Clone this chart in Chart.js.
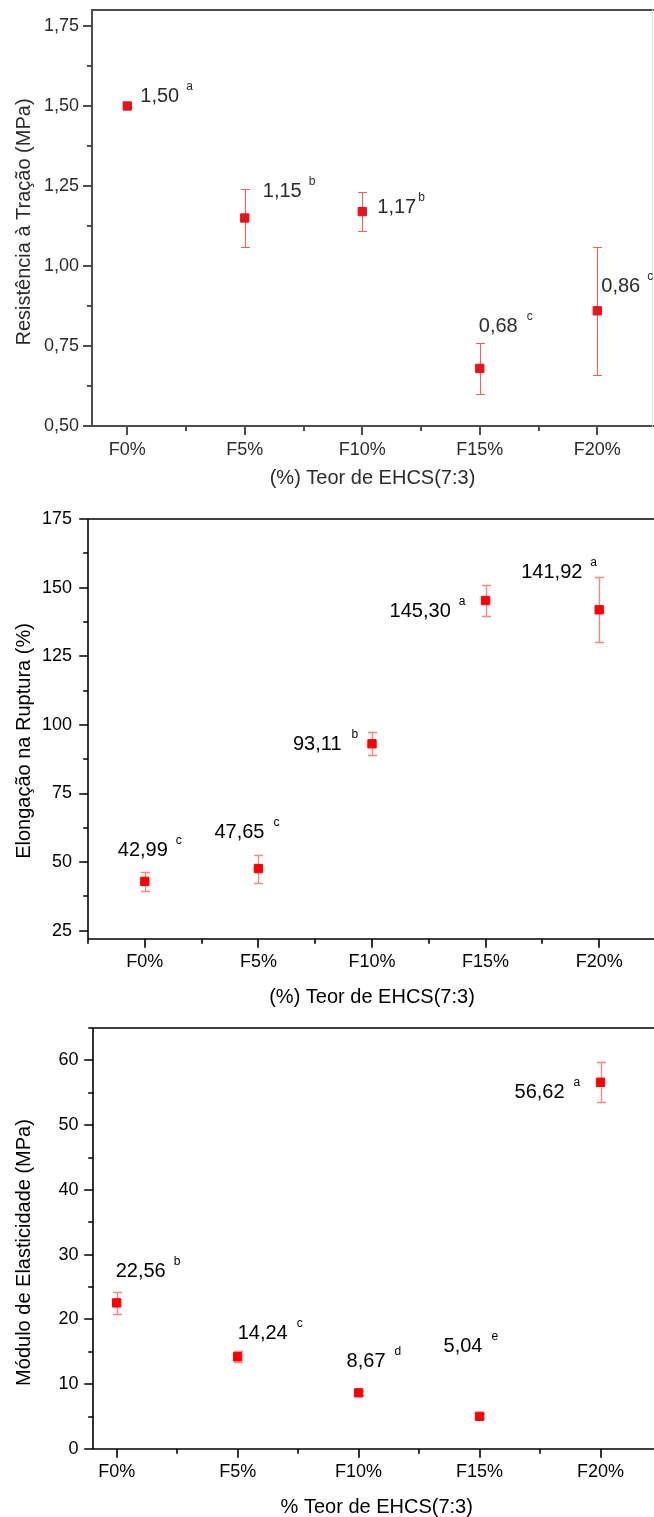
<!DOCTYPE html>
<html>
<head>
<meta charset="utf-8">
<title>EHCS(7:3)</title>
<script src="https://cdn.jsdelivr.net/npm/chart.js@4.4.1/dist/chart.umd.min.js"></script>
<style>
  html, body { margin: 0; padding: 0; background: #fff; overflow: hidden; }
  #page { position: relative; width: 654px; height: 1517px; overflow: hidden; }
  #page canvas { position: absolute; left: 0; }
  #tensile { filter: blur(0.45px); }
</style>
</head>
<body>
<div id="page">
  <canvas id="tensile" width="654" height="500" style="top:0"></canvas>
  <canvas id="elongation" width="656" height="519" style="top:500px"></canvas>
  <canvas id="modulus" width="661" height="510" style="top:1019px"></canvas>
</div>
<script>
const categories = ['F0%', 'F5%', 'F10%', 'F15%', 'F20%'];

const tensileValues = [1.50, 1.15, 1.17, 0.68, 0.86];
const tensileErrors = [0.01, 0.09, 0.06, 0.08, 0.2];
const tensileLetters = ['a', 'b', 'b', 'c', 'c'];
const tensileTicks = [0.50, 0.75, 1.00, 1.25, 1.50, 1.75];

const elongationValues = [42.99, 47.65, 93.11, 145.30, 141.92];
const elongationErrors = [3.5, 5.1, 4.2, 5.7, 11.9];
const elongationLetters = ['c', 'c', 'b', 'a', 'a'];
const elongationTicks = [25, 50, 75, 100, 125, 150, 175];

const modulusValues = [22.56, 14.24, 8.67, 5.04, 56.62];
const modulusErrors = [1.75, 0.85, 0.3, 0.3, 3.1];
const modulusLetters = ['b', 'c', 'd', 'e', 'a'];
const modulusTicks = [0, 10, 20, 30, 40, 50, 60];

const FONT = '"Liberation Sans", Arial, Helvetica, sans-serif';

const formatComma = (value, digits) => value.toFixed(digits).replace('.', ',');

// pin the right edge of the plot box (the layout keeps a few px for the last tick label)
const plotBoxPlugin = {
    id: 'plotBox',
    afterLayout(chart, args, opts) {
        const x = chart.scales.x;
        const right = chart.width - opts.right;
        chart.chartArea.right = right;
        chart.chartArea.width = right - chart.chartArea.left;
        x.right = right;
        x.width = right - x.left;
        x.configure();
    },
};

// vertical error bars with caps, drawn under the markers
const errorBarPlugin = {
    id: 'errorBars',
    beforeDatasetsDraw(chart, args, opts) {
        const { ctx, scales: { x, y } } = chart;
        ctx.save();
        ctx.strokeStyle = opts.color;
        ctx.lineWidth = opts.width;
        opts.errors.forEach((err, i) => {
            const v = opts.values[i];
            const px = Math.round(x.getPixelForValue(i)) + 0.5;
            const top = Math.round(y.getPixelForValue(v + err)) + 0.5;
            const bottom = Math.round(y.getPixelForValue(v - err)) + 0.5;
            ctx.beginPath();
            ctx.moveTo(px, top);
            ctx.lineTo(px, bottom);
            ctx.moveTo(px - opts.cap, top);
            ctx.lineTo(px + opts.cap, top);
            ctx.moveTo(px - opts.cap, bottom);
            ctx.lineTo(px + opts.cap, bottom);
            ctx.stroke();
        });
        ctx.restore();
    },
};

// axis lines, frame, major / minor tick marks and the rotated y title
const framePlugin = {
    id: 'frame',
    beforeDatasetsDraw(chart, args, opts) {
        const { ctx, chartArea: area, scales: { x, y } } = chart;
        const left = Math.round(area.left);
        const bottom = Math.round(area.bottom);
        ctx.save();
        ctx.strokeStyle = opts.color;
        ctx.lineWidth = opts.width;
        ctx.lineCap = 'square';

        ctx.beginPath();
        ctx.moveTo(left, Math.round(area.top));
        ctx.lineTo(area.right + 2, Math.round(area.top));
        ctx.moveTo(left, Math.round(area.top));
        ctx.lineTo(left, bottom);
        ctx.lineTo(area.right + 2, bottom);

        const ticks = opts.yTicks;
        const half = (ticks[1] - ticks[0]) / 2;
        for (let v = ticks[0] - half; v <= y.max + 1e-9; v += half) {
            if (v < y.min - 1e-9) continue;
            const py = Math.round(y.getPixelForValue(v));
            const major = ticks.some((t) => Math.abs(t - v) < 1e-9);
            ctx.moveTo(left - (major ? opts.majorLen : opts.minorLen), py);
            ctx.lineTo(left, py);
        }
        for (let v = Math.ceil(x.min * 2) / 2; v <= x.max + 1e-9; v += 0.5) {
            const px = Math.round(x.getPixelForValue(v));
            const major = Number.isInteger(v);
            ctx.moveTo(px, bottom);
            ctx.lineTo(px, bottom + (major ? opts.majorLen : opts.minorLen));
        }
        ctx.stroke();

        if (opts.rightColor) {
            ctx.strokeStyle = opts.rightColor;
            ctx.lineWidth = 1;
            ctx.beginPath();
            ctx.moveTo(Math.round(area.right) - 0.5, area.top);
            ctx.lineTo(Math.round(area.right) - 0.5, bottom);
            ctx.stroke();
        }

        ctx.translate(opts.titleX, (area.top + area.bottom) / 2 + opts.titleShift);
        ctx.rotate(-Math.PI / 2);
        ctx.fillStyle = opts.textColor;
        ctx.font = `20px ${FONT}`;
        ctx.textAlign = 'center';
        ctx.textBaseline = 'middle';
        ctx.fillText(opts.title, 0, 0);
        ctx.restore();
    },
};

// value labels with the letter of the significance group as superscript
const valueLabelPlugin = {
    id: 'valueLabels',
    afterDatasetsDraw(chart, args, opts) {
        const { ctx, scales: { x, y } } = chart;
        ctx.save();
        ctx.fillStyle = opts.color;
        ctx.textAlign = 'left';
        ctx.textBaseline = 'alphabetic';
        opts.values.forEach((v, i) => {
            const text = formatComma(v, 2);
            const tx = x.getPixelForValue(i) + opts.dx[i];
            const ty = y.getPixelForValue(v) + opts.dy[i] + 7;
            ctx.font = `20px ${FONT}`;
            ctx.fillText(text, tx, ty);
            const w = ctx.measureText(text).width;
            ctx.font = `12px ${FONT}`;
            ctx.fillText(opts.letters[i], tx + w + opts.gap[i], ty - 12);
        });
        ctx.restore();
    },
};

// no extra room around the plot box for labels sitting at its edges
const noEdgePadding = (scale) => {
    scale.paddingTop = 0;
    scale.paddingBottom = 0;
    scale.paddingLeft = 0;
    scale.paddingRight = 0;
};

const makeChart = (canvasId, cfg) => {
    const points = cfg.values.map((v, i) => ({ x: i, y: v }));
    const tickFont = { family: FONT, size: 18 };
    const titleFont = { family: FONT, size: 20 };

    return new Chart(document.getElementById(canvasId), {
        type: 'scatter',
        data: {
            datasets: [
                {
                    data: points,
                    pointStyle: 'rect',
                    pointRadius: 5.9,
                    pointHoverRadius: 5.9,
                    backgroundColor: cfg.marker,
                    borderColor: cfg.marker,
                    borderWidth: 1,
                },
            ],
        },
        options: {
            responsive: false,
            animation: false,
            events: [],
            layout: { padding: { top: cfg.top, right: cfg.right, bottom: 0, left: 0 } },
            plugins: {
                legend: { display: false },
                tooltip: { enabled: false },
                plotBox: { right: cfg.right },
                errorBars: { values: cfg.values, errors: cfg.errors, color: cfg.barColor, width: cfg.barWidth, cap: 4.5 },
                frame: {
                    color: cfg.axisColor,
                    width: cfg.axisWidth,
                    majorLen: 8,
                    minorLen: 4,
                    yTicks: cfg.yTicks,
                    rightColor: cfg.rightColor,
                    title: cfg.yTitle,
                    titleX: 24,
                    titleShift: cfg.yTitleShift,
                    textColor: cfg.textColor,
                },
                valueLabels: {
                    values: cfg.values,
                    letters: cfg.letters,
                    dx: cfg.dx,
                    dy: cfg.dy,
                    gap: cfg.gap,
                    color: cfg.textColor,
                },
            },
            scales: {
                x: {
                    type: 'linear',
                    min: cfg.xMin,
                    max: cfg.xMax,
                    afterFit: (scale) => {
                        scale.height = cfg.xAxisHeight;
                        noEdgePadding(scale);
                    },
                    afterBuildTicks: (scale) => { scale.ticks = categories.map((_, i) => ({ value: i })); },
                    grid: { display: false, drawTicks: false },
                    border: { display: false },
                    ticks: {
                        autoSkip: false,
                        maxRotation: 0,
                        padding: cfg.xTickPad,
                        color: cfg.textColor,
                        font: tickFont,
                        callback: (value) => categories[value],
                    },
                    title: {
                        display: true,
                        text: cfg.xTitle,
                        color: cfg.textColor,
                        font: titleFont,
                        padding: { top: 0, bottom: 10 },
                    },
                },
                y: {
                    type: 'linear',
                    min: cfg.yMin,
                    max: cfg.yMax,
                    afterFit: (scale) => {
                        scale.width = cfg.yAxisWidth;
                        noEdgePadding(scale);
                    },
                    afterBuildTicks: (scale) => { scale.ticks = cfg.yTicks.map((value) => ({ value })); },
                    grid: { display: false, drawTicks: false },
                    border: { display: false },
                    ticks: {
                        padding: cfg.yTickPad,
                        color: cfg.textColor,
                        font: tickFont,
                        callback: cfg.yFormat,
                    },
                },
            },
        },
        plugins: [plotBoxPlugin, framePlugin, errorBarPlugin, valueLabelPlugin],
    });
};

makeChart('tensile', {
    values: tensileValues,
    errors: tensileErrors,
    letters: tensileLetters,
    yTicks: tensileTicks,
    yMin: 0.5,
    yMax: 1.8,
    xMin: -0.3,
    xMax: 4.474,
    top: 10,
    right: 1,
    yAxisWidth: 92,
    xAxisHeight: 74,
    xTickPad: 13,
    yTickPad: 13,
    yFormat: (value) => formatComma(value, 2),
    xTitle: '(%) Teor de EHCS(7:3)',
    yTitle: 'Resistência à Tração (MPa)',
    yTitleShift: 4,
    dx: [13, 18, 15, -1, 4],
    dy: [-11, -28, -6, -43, -26],
    gap: [7, 7, 2, 9, 7],
    marker: '#e8141b',
    barColor: 'rgba(240, 85, 85, 0.95)',
    barWidth: 1.1,
    axisColor: '#4d4d4d',
    axisWidth: 2,
    rightColor: '#e2e2e2',
    textColor: '#2b2b2b',
});

makeChart('elongation', {
    values: elongationValues,
    errors: elongationErrors,
    letters: elongationLetters,
    yTicks: elongationTicks,
    yMin: 22,
    yMax: 175,
    xMin: -0.5,
    xMax: 4.5,
    top: 19,
    right: 0,
    yAxisWidth: 88,
    xAxisHeight: 80,
    xTickPad: 12,
    yTickPad: 16,
    yFormat: (value) => String(value),
    xTitle: '(%) Teor de EHCS(7:3)',
    yTitle: 'Elongação na Ruptura (%)',
    yTitleShift: 12,
    dx: [-27, -44, -79, -96, -78],
    dy: [-32, -38, -1, 9, -39],
    gap: [8, 9, 10, 8, 8],
    marker: '#ff0000',
    barColor: 'rgba(255, 90, 90, 0.75)',
    barWidth: 1.3,
    axisColor: '#000',
    axisWidth: 1.6,
    rightColor: null,
    textColor: '#000',
});

makeChart('modulus', {
    values: modulusValues,
    errors: modulusErrors,
    letters: modulusLetters,
    yTicks: modulusTicks,
    yMin: 0,
    yMax: 65,
    xMin: -0.2,
    xMax: 4.5,
    top: 9,
    right: 0,
    yAxisWidth: 92.5,
    xAxisHeight: 80,
    xTickPad: 12,
    yTickPad: 14,
    yFormat: (value) => String(value),
    xTitle: '% Teor de EHCS(7:3)',
    yTitle: 'Módulo de Elasticidade (MPa)',
    yTitleShift: 14,
    dx: [-1, 0, -12, -36, -86],
    dy: [-33, -25, -33, -71, 9],
    gap: [8, 9, 9, 9, 9],
    marker: '#ff0000',
    barColor: 'rgba(255, 90, 90, 0.75)',
    barWidth: 1.3,
    axisColor: '#000',
    axisWidth: 1.6,
    rightColor: null,
    textColor: '#000',
});
</script>
</body>
</html>
